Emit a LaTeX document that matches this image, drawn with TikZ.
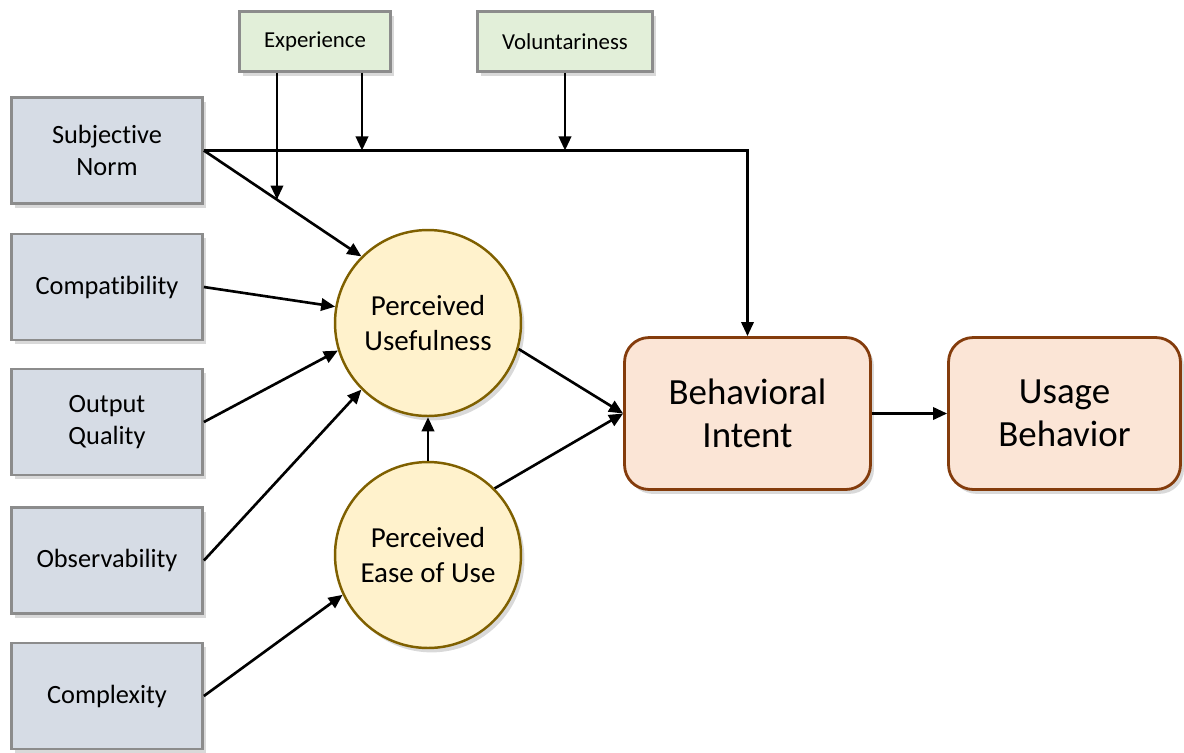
\documentclass[tikz,border=0pt]{standalone}
\usepackage{fontspec}
\setmainfont{Carlito}[Ligatures=NoCommon]
\usetikzlibrary{arrows.meta,calc,shadows}

\definecolor{factorfill}{HTML}{D6DCE5}
\definecolor{modfill}{HTML}{E2EFD9}
\definecolor{boxline}{HTML}{8C8C8C}
\definecolor{percfill}{HTML}{FFF2CC}
\definecolor{percline}{HTML}{7F6000}
\definecolor{outfill}{HTML}{FBE5D6}
\definecolor{outline}{HTML}{843C0C}

\begin{document}
\begin{tikzpicture}[
		x=0.02cm, y=-0.02cm,
		shade/.style={drop shadow={shadow xshift=2pt,shadow yshift=-2.5pt,opacity=0.3}},
		factor/.style={rectangle,draw=boxline,fill=factorfill,line width=1.6pt,shade,
			minimum width=3.82cm,minimum height=2.12cm,align=center,
			font=\fontsize{15}{18}\selectfont},
		moderator/.style={rectangle,draw=boxline,fill=modfill,line width=1.6pt,shade,
			minimum height=1.2cm,align=center,font=\fontsize{13}{15}\selectfont},
		percept/.style={circle,draw=percline,fill=percfill,line width=1.4pt,shade,
			minimum size=3.72cm,align=center,font=\fontsize{16.5}{19.5}\selectfont},
		outcome/.style={rectangle,rounded corners=14pt,draw=outline,fill=outfill,line width=1.6pt,shade,
			minimum height=3.04cm,align=center,font=\fontsize{21}{24.5}\selectfont},
		link/.style={-{Triangle[length=8pt,width=7pt]},line width=1.5pt}]

		\useasboundingbox (0,0) rectangle (1184,752);

		\node[factor] (sn)   at (107,150.5) {Subjective\\Norm};
		\node[factor] (comp) at (107,287)   {Compatibility};
		\node[factor] (oq)   at (107,422)   {Output\\Quality};
		\node[factor] (obs)  at (107,560.5) {Observability};
		\node[factor] (cx)   at (107,696)   {Complexity};

		\node[moderator,minimum width=3.02cm] (exp) at (315,41.5) {Experience};
		\node[moderator,minimum width=3.5cm]  (vol) at (565,41.5) {Voluntariness};

		\node[percept] (pu)   at (428,323) {Perceived\\Usefulness};
		\node[percept] (peou) at (428,555) {Perceived\\Ease of Use};

		\node[outcome,minimum width=4.92cm] (bi) at (747.5,413.5) {Behavioral\\Intent};
		\node[outcome,minimum width=4.64cm] (ub) at (1064.5,413.5) {Usage\\Behavior};

		\coordinate (j1) at ($(sn.east)!0.464!(pu.135)$);
		\coordinate (e2) at ($(exp.south)+(47,0)$);
		\coordinate (j2) at (e2 |- sn.east);
		\coordinate (j3) at (vol.south |- sn.east);

		\draw[link] (sn.east) -| (bi.north);
		\draw[link] (sn.east) -- (pu.135);
		\draw[link] (exp.south -| j1) -- (j1);
		\draw[link] (e2) -- (j2);
		\draw[link] (vol.south) -- (j3);

		\draw[link] (comp.east) -- (pu.170);
		\draw[link] (oq.east) -- (pu.197);
		\draw[link] (obs.east) -- (pu.225);
		\draw[link] (cx.east) -- (peou.205);

		\draw[link] (peou.north) -- (pu.south);
		\draw[link] (pu.344) -- (bi.west);
		\draw[link] (peou.45) -- (bi.west);
		\draw[link] (bi.east) -- (ub.west);

\end{tikzpicture}
\end{document}
